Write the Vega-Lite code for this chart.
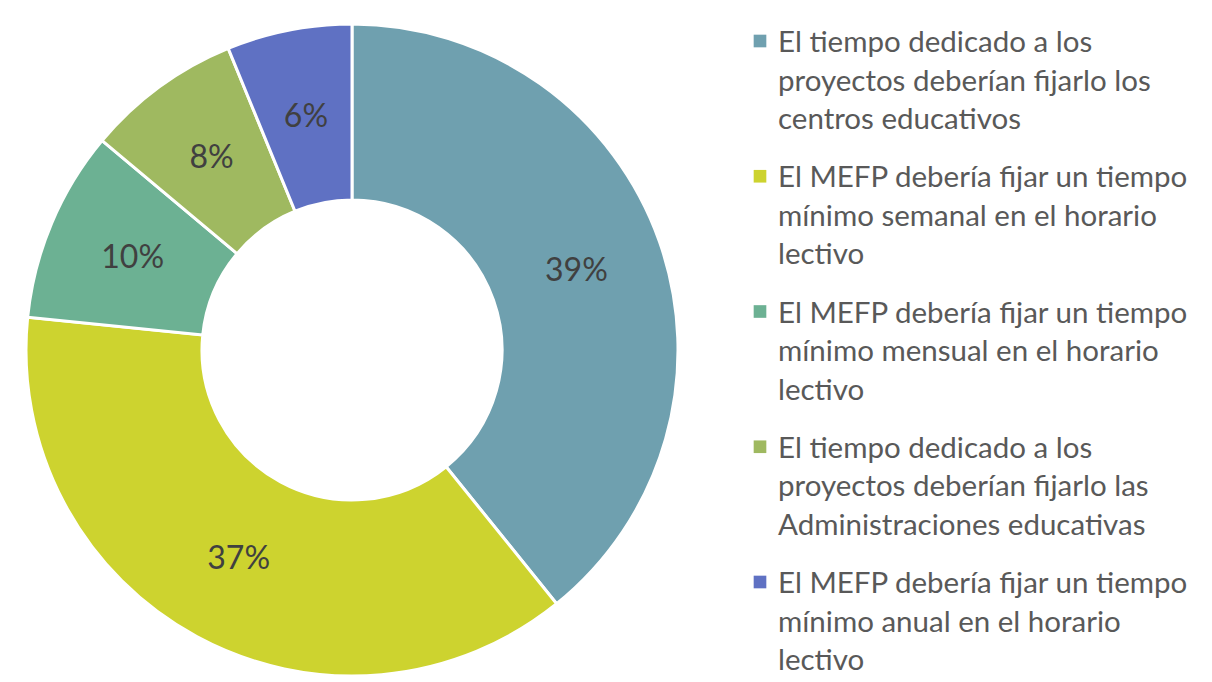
{
  "$schema": "https://vega.github.io/schema/vega-lite/v6.json",
  "padding": 0,
  "spacing": 0,
  "background": "white",
  "config": {"view": {"stroke": null}, "font": "Lato"},
  "data": {
    "values": [
      {"rank": 1, "categoria": "El tiempo dedicado a los proyectos deberían fijarlo los centros educativos", "lineas": ["El tiempo dedicado a los", "proyectos deberían fijarlo los", "centros educativos"], "valor": 39.2, "etiqueta": "39%"},
      {"rank": 2, "categoria": "El MEFP debería fijar un tiempo mínimo semanal en el horario lectivo", "lineas": ["El MEFP debería fijar un tiempo", "mínimo semanal en el horario", "lectivo"], "valor": 37.4, "etiqueta": "37%"},
      {"rank": 3, "categoria": "El MEFP debería fijar un tiempo mínimo mensual en el horario lectivo", "lineas": ["El MEFP debería fijar un tiempo", "mínimo mensual en el horario", "lectivo"], "valor": 9.5, "etiqueta": "10%"},
      {"rank": 4, "categoria": "El tiempo dedicado a los proyectos deberían fijarlo las Administraciones educativas", "lineas": ["El tiempo dedicado a los", "proyectos deberían fijarlo las", "Administraciones educativas"], "valor": 7.7, "etiqueta": "8%"},
      {"rank": 5, "categoria": "El MEFP debería fijar un tiempo mínimo anual en el horario lectivo", "lineas": ["El MEFP debería fijar un tiempo", "mínimo anual en el horario", "lectivo"], "valor": 6.2, "etiqueta": "6%"}
    ]
  },
  "hconcat": [
    {
      "width": 704,
      "height": 700,
      "encoding": {
        "theta": {"field": "valor", "type": "quantitative", "stack": true},
        "order": {"field": "rank", "type": "quantitative"},
        "color": {
          "field": "categoria",
          "type": "nominal",
          "legend": null,
          "scale": {
            "domain": [
              "El tiempo dedicado a los proyectos deberían fijarlo los centros educativos",
              "El MEFP debería fijar un tiempo mínimo semanal en el horario lectivo",
              "El MEFP debería fijar un tiempo mínimo mensual en el horario lectivo",
              "El tiempo dedicado a los proyectos deberían fijarlo las Administraciones educativas",
              "El MEFP debería fijar un tiempo mínimo anual en el horario lectivo"
            ],
            "range": ["#6FA0AF", "#CDD32F", "#6CB193", "#9FB960", "#5F71C3"]
          }
        }
      },
      "layer": [
        {"mark": {"type": "arc", "outerRadius": 326, "innerRadius": 150, "stroke": "white", "strokeWidth": 3}},
        {
          "mark": {"type": "text", "radius": 238, "fontSize": 32, "font": "Lato", "fill": "#404040"},
          "encoding": {"text": {"field": "etiqueta", "type": "nominal"}, "color": {"value": "#404040"}}
        }
      ]
    },
    {
      "width": 508,
      "height": 700,
      "encoding": {
        "y": {
          "field": "categoria",
          "type": "nominal",
          "axis": null,
          "sort": [
            "El tiempo dedicado a los proyectos deberían fijarlo los centros educativos",
            "El MEFP debería fijar un tiempo mínimo semanal en el horario lectivo",
            "El MEFP debería fijar un tiempo mínimo mensual en el horario lectivo",
            "El tiempo dedicado a los proyectos deberían fijarlo las Administraciones educativas",
            "El MEFP debería fijar un tiempo mínimo anual en el horario lectivo"
          ],
          "scale": {"type": "point", "range": [41, 582], "padding": 0}
        },
        "x": {"value": 56}
      },
      "layer": [
        {
          "mark": {"type": "square", "size": 160, "filled": true, "opacity": 1},
          "encoding": {
            "color": {
              "field": "categoria",
              "type": "nominal",
              "legend": null,
              "scale": {
                "domain": [
                  "El tiempo dedicado a los proyectos deberían fijarlo los centros educativos",
                  "El MEFP debería fijar un tiempo mínimo semanal en el horario lectivo",
                  "El MEFP debería fijar un tiempo mínimo mensual en el horario lectivo",
                  "El tiempo dedicado a los proyectos deberían fijarlo las Administraciones educativas",
                  "El MEFP debería fijar un tiempo mínimo anual en el horario lectivo"
                ],
                "range": ["#6FA0AF", "#CDD32F", "#6CB193", "#9FB960", "#5F71C3"]
              }
            }
          }
        },
        {
          "mark": {"type": "text", "align": "left", "baseline": "alphabetic", "dx": 18, "dy": 11, "lineHeight": 38.5, "fontSize": 29.5, "font": "Lato", "color": "#595959"},
          "encoding": {"text": {"field": "lineas", "type": "nominal"}}
        }
      ]
    }
  ]
}
